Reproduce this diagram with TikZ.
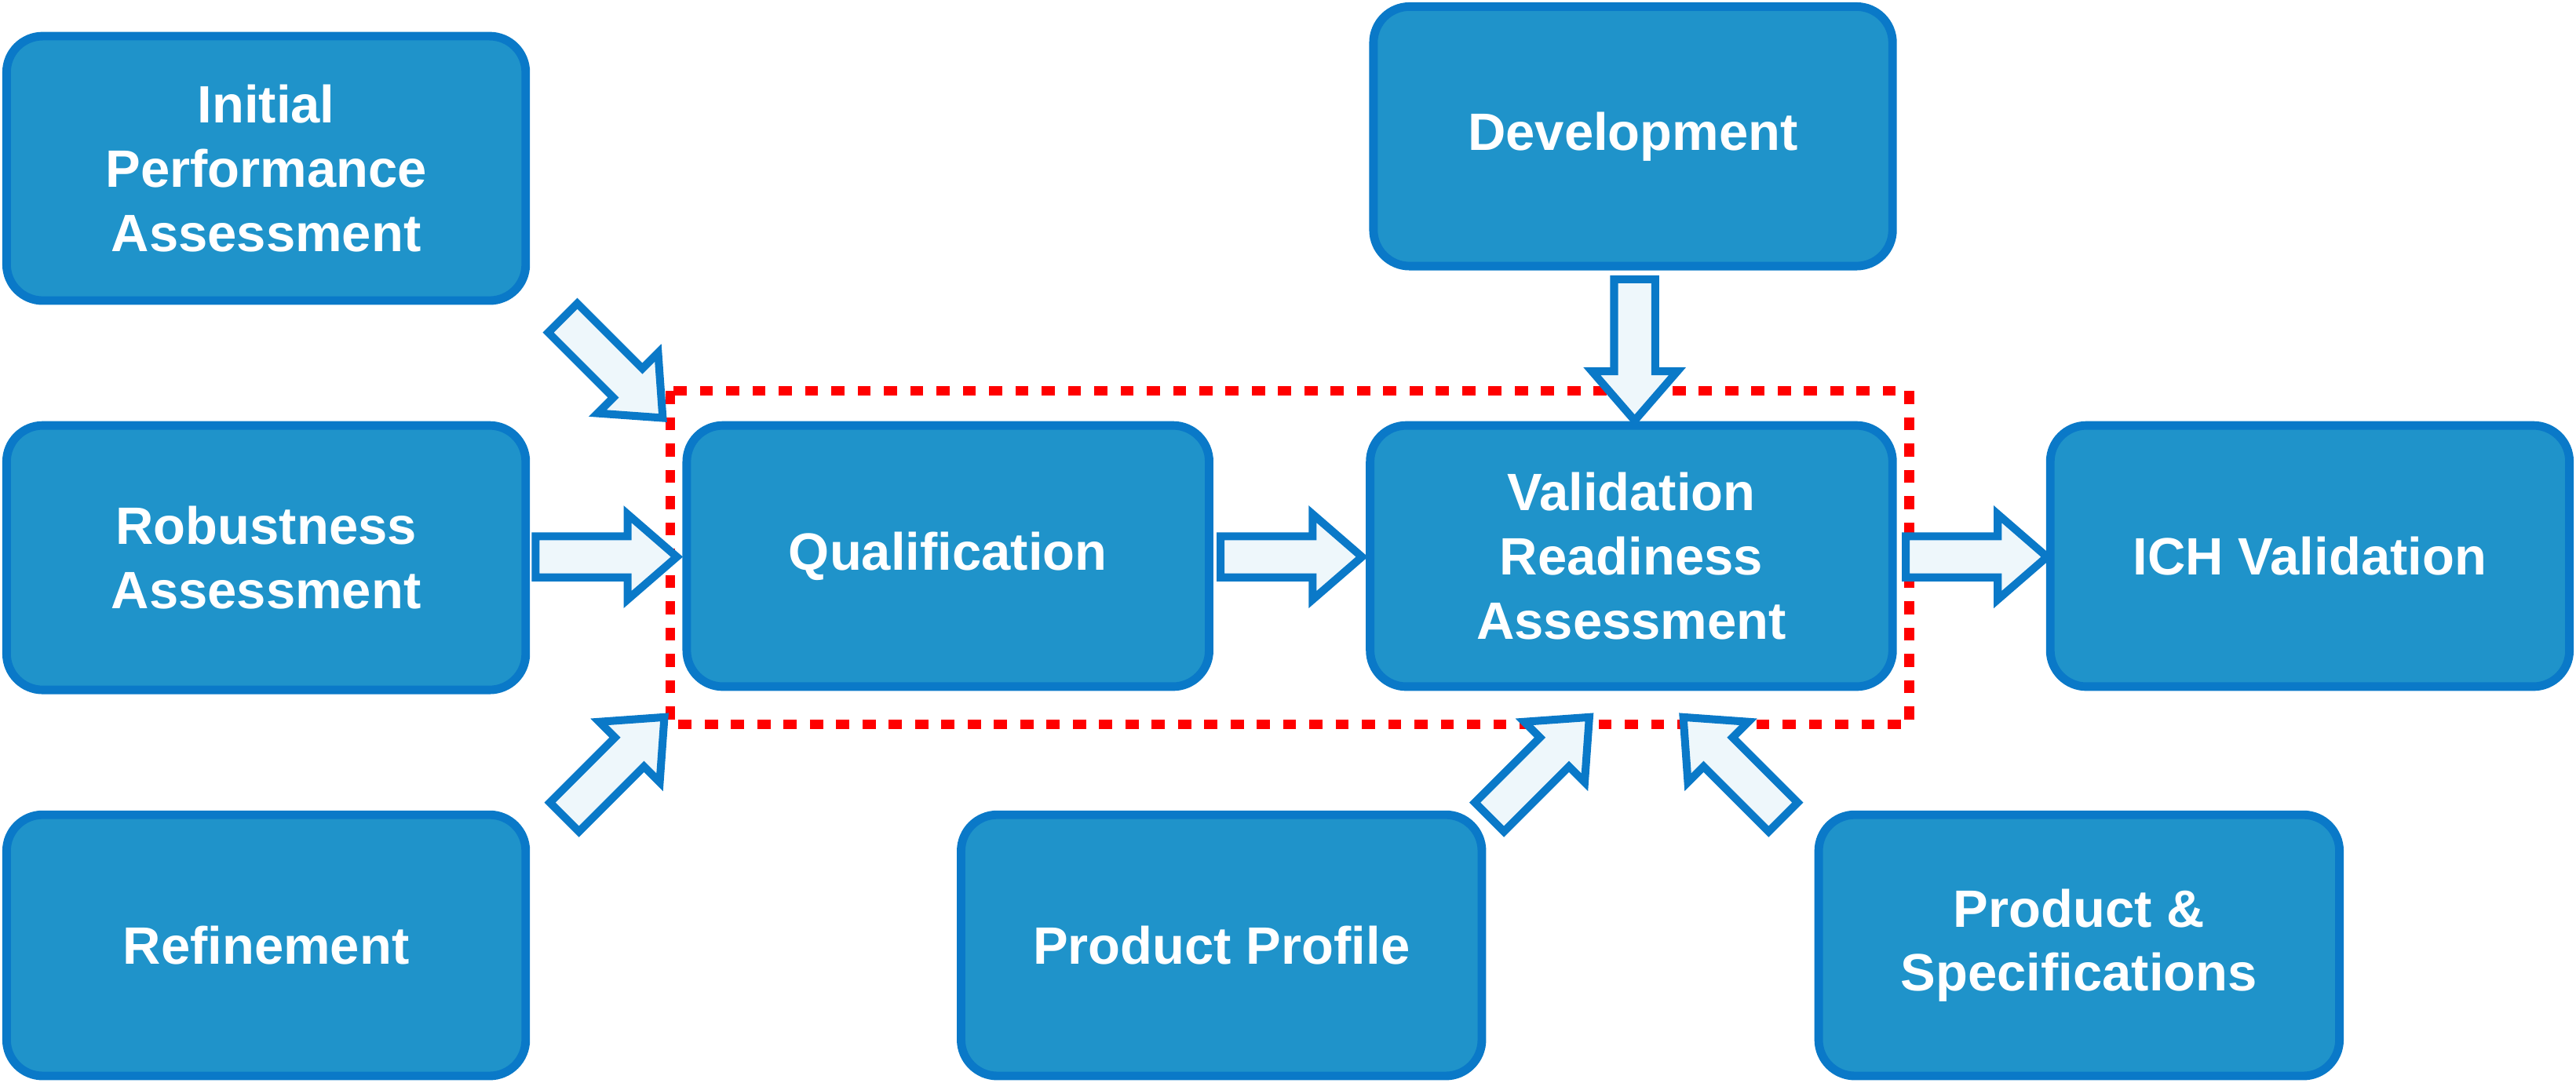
\documentclass[tikz,border=0pt]{standalone}
\usepackage{fontspec}
\setmainfont{Liberation Sans}
\begin{document}
\begin{tikzpicture}[x=0.5pt,y=0.5pt,
  box/.style={draw=boxline,fill=boxfill,line width=2.6pt,rounded corners=11pt,text=white,
    font=\fontsize{16}{19.5}\selectfont\bfseries,align=center,inner sep=0pt},
  barrow/.pic={\draw[draw=boxline,fill=arrowfill,line width=2.4pt,line join=miter]
    (-43,-12.5)--(13,-12.5)--(13,-26)--(43,0)--(13,26)--(13,12.5)--(-43,12.5)--cycle;}]
\definecolor{boxfill}{HTML}{1F93CA}
\definecolor{boxline}{HTML}{0A79C8}
\definecolor{arrowfill}{HTML}{EEF7FB}
\useasboundingbox (0,0) rectangle (1568,-659);
\newcommand\bx[6]{\node[box,minimum width={(#4-#2)*0.5pt},minimum height={(#5-#3)*0.5pt}] (#1) at ({(#2+#4)/2},{-(#3+#5)/2}) {#6};}
\bx{ipa}{4}{22}{320}{183}{Initial\\Performance\\Assessment}
\bx{rob}{4}{259}{320}{420}{Robustness\\Assessment}
\bx{ref}{4}{496}{320}{655}{Refinement}
\bx{dev}{836}{4}{1152}{162}{Development}
\bx{qual}{418}{259}{736}{418}{Qualification}
\bx{vra}{834}{259}{1152}{418}{Validation\\Readiness\\Assessment}
\bx{ich}{1248}{259}{1564}{418}{ICH Validation}
\bx{pp}{585}{496}{902}{655}{Product Profile}
\bx{ps}{1107}{496}{1424}{655}{Product \&\\Specifications}
\draw[red,line width=3pt,dash pattern=on 4pt off 4pt] (408,-238) rectangle (1162,-441);
\pic[rotate=-45] at (373,-224) {barrow};
\pic at (369,-339) {barrow};
\pic[rotate=45] at (374,-467) {barrow};
\pic at (786,-339) {barrow};
\pic at (1203,-339) {barrow};
\pic[rotate=-90] at (995,-213) {barrow};
\pic[rotate=45] at (937,-467) {barrow};
\pic[rotate=135] at (1055,-467) {barrow};
\end{tikzpicture}
\end{document}
